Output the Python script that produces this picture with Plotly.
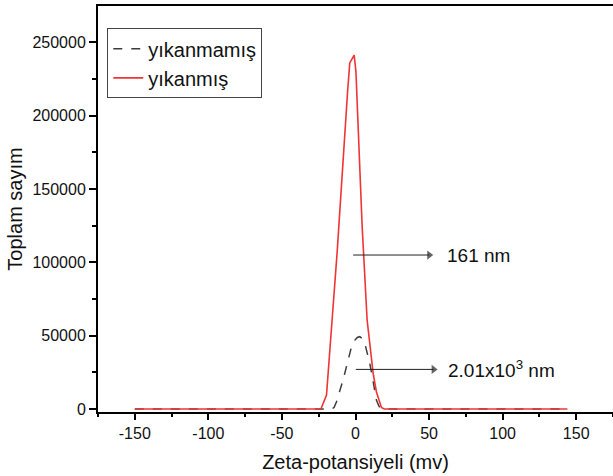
import plotly.graph_objects as go

# Data
red_x = [-150, -23.5, -19.7, -12.4, -5.4, -3.9, -0.9, 0.3, 4.5, 7.9, 12.0, 14.2, 17.6, 19.5, 144]
red_y = [0, 0, 9500, 108000, 216000, 236000, 241300, 230000, 125000, 60700, 24300, 11800, 1000, 0, 0]

gray_x = [-150, -16.0, -14.5, -12.9, -8.4, -5.0, -2.7, -0.5, 1.2, 2.9, 4.6, 6.3, 7.5, 9.7, 12.0, 14.2, 16.0, 17.6, 20.0, 144]
gray_y = [0, 0, 1200, 5000, 20000, 33000, 42500, 46800, 48800, 49300, 48000, 44800, 40200, 31200, 18600, 6100, 1800, 500, 0, 0]

series_names = ["yıkanmamış", "yıkanmış"]

x_ticks = [-150, -100, -50, 0, 50, 100, 150]
y_ticks = [0, 50000, 100000, 150000, 200000, 250000]

label1 = "161 nm"
label2 = "2.01x10<sup>3</sup> nm"
arrow1 = dict(y=105000, x0=-1.6, x1=52.6, tx=60.6)
arrow2 = dict(y=27000, x0=0.2, x1=55.6, tx=61.7)

FONT = "Liberation Sans, Arial, sans-serif"

fig = go.Figure()
fig.add_trace(go.Scatter(x=gray_x, y=gray_y, mode="lines", name=series_names[0],
                         line=dict(color="#3c3c3c", width=1.5, dash="dash")))
fig.add_trace(go.Scatter(x=red_x, y=red_y, mode="lines", name=series_names[1],
                         line=dict(color="#f03434", width=1.6)))

for a, txt in [(arrow1, label1), (arrow2, label2)]:
    fig.add_trace(go.Scatter(x=[a["x0"], a["x1"] - 2.5], y=[a["y"], a["y"]], mode="lines+markers",
                             showlegend=False, hoverinfo="skip",
                             line=dict(color="#222222", width=1),
                             marker=dict(symbol=["circle", "triangle-right"], size=[0, 8],
                                         color="#222222", line=dict(width=0))))
    fig.add_annotation(x=a["tx"], y=a["y"], xref="x", yref="y", text=txt, showarrow=False,
                       xanchor="left", yanchor="middle", font=dict(family=FONT, size=19, color="#111111"))

fig.update_layout(
    width=613, height=476,
    margin=dict(l=98, r=0, t=6, b=64),
    paper_bgcolor="white", plot_bgcolor="white",
    font=dict(family=FONT, color="#111111"),
    showlegend=True,
    legend=dict(x=0.018, y=0.945, xanchor="left", yanchor="top",
                bordercolor="#444444", borderwidth=1, bgcolor="white",
                font=dict(family=FONT, size=20, color="#111111"),
                tracegroupgap=0, itemwidth=30),
)
fig.update_xaxes(range=[-175, 175], tickvals=x_ticks, ticktext=[str(v) for v in x_ticks],
                 showgrid=False, zeroline=False, showline=True, linecolor="black", linewidth=2,
                 mirror=True, ticks="outside", ticklen=6, tickwidth=2, tickcolor="black",
                 tickfont=dict(family=FONT, size=16, color="#111111"),
                 minor=dict(ticks="outside", ticklen=3, tickwidth=2, tickcolor="black", dtick=25, tick0=0),
                 title=dict(text="Zeta-potansiyeli (mv)", font=dict(family=FONT, size=20, color="#111111"), standoff=14))
fig.update_yaxes(range=[-2045, 274800], tickvals=y_ticks, ticktext=[str(v) for v in y_ticks],
                 showgrid=False, zeroline=False, showline=True, linecolor="black", linewidth=2,
                 ticks="outside", ticklen=7, tickwidth=2, tickcolor="black",
                 tickfont=dict(family=FONT, size=16, color="#111111"),
                 minor=dict(ticks="outside", ticklen=4, tickwidth=2, tickcolor="black", dtick=25000, tick0=0),
                 title=dict(text="Toplam sayım", font=dict(family=FONT, size=20, color="#111111"), standoff=4))

fig.write_html("out.html")
